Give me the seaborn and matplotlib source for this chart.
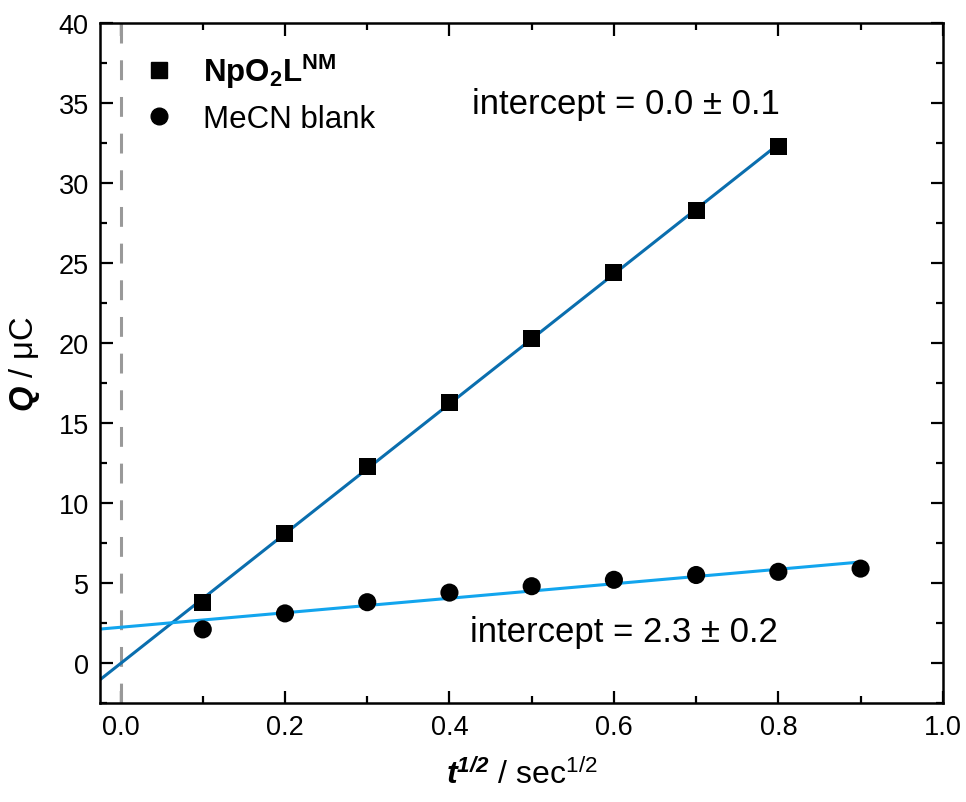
import numpy as np
import pandas as pd
import matplotlib
matplotlib.use("Agg")
import matplotlib.pyplot as plt
import seaborn as sns
from matplotlib.ticker import MultipleLocator
from matplotlib.lines import Line2D

sns.set_theme(style="ticks")
plt.rcParams['font.family'] = ['Liberation Sans', 'DejaVu Sans']
plt.rcParams['text.color'] = 'black'
plt.rcParams['axes.labelcolor'] = 'black'
plt.rcParams['xtick.color'] = 'black'
plt.rcParams['ytick.color'] = 'black'
plt.rcParams['mathtext.fontset'] = 'custom'
plt.rcParams['mathtext.rm'] = 'Liberation Sans'
plt.rcParams['mathtext.it'] = 'Liberation Sans:italic'
plt.rcParams['mathtext.bf'] = 'Liberation Sans:bold'
plt.rcParams['mathtext.bfit'] = 'Liberation Sans:italic:bold'

# data
t_np = [0.1, 0.2, 0.3, 0.4, 0.5, 0.6, 0.7, 0.8]
q_np = [3.8, 8.1, 12.3, 16.3, 20.3, 24.4, 28.3, 32.3]
t_blank = [0.1, 0.2, 0.3, 0.4, 0.5, 0.6, 0.7, 0.8, 0.9]
q_blank = [2.1, 3.1, 3.8, 4.4, 4.8, 5.2, 5.5, 5.7, 5.9]
label_np = r'$\mathbf{NpO_2L^{NM}}$'
label_blank = 'MeCN blank'
note_np = 'intercept = 0.0 ± 0.1'
note_blank = 'intercept = 2.3 ± 0.2'

dark_blue = '#0A6EAE'
light_blue = '#12A5EE'

xmin, xmax = -0.025, 1.0
ymin, ymax = -2.5, 40

fig = plt.figure(figsize=(9.66, 8.03), dpi=100)
ax = fig.add_axes([0.1035, 0.1233, 0.8725, 0.8467])

# fits
p1 = np.polyfit(t_np, q_np, 1)
p2 = np.polyfit(t_blank, q_blank, 1)
xf1 = np.linspace(xmin, max(t_np), 50)
xf2 = np.linspace(xmin, max(t_blank), 50)
sns.lineplot(x=xf1, y=np.polyval(p1, xf1), ax=ax, color=dark_blue, lw=2.2, zorder=2)
sns.lineplot(x=xf2, y=np.polyval(p2, xf2), ax=ax, color=light_blue, lw=2.2, zorder=2)

ax.axvline(0, color='#999999', lw=2.2, ls=(0, (6.5, 5.5)), zorder=1)

sns.scatterplot(x=t_np, y=q_np, ax=ax, marker='s', s=150, color='black',
                edgecolor='none', zorder=3)
sns.scatterplot(x=t_blank, y=q_blank, ax=ax, marker='o', s=170, color='black',
                edgecolor='none', zorder=3)

ax.set_xlim(xmin, xmax)
ax.set_ylim(ymin, ymax)
ax.xaxis.set_major_locator(MultipleLocator(0.2))
ax.xaxis.set_minor_locator(MultipleLocator(0.1))
ax.yaxis.set_major_locator(MultipleLocator(5))
ax.yaxis.set_minor_locator(MultipleLocator(2.5))
ax.xaxis.set_major_formatter(matplotlib.ticker.FormatStrFormatter('%.1f'))
ax.tick_params(which='both', direction='in', top=True, right=True, width=1.6, colors='black')
ax.tick_params(which='major', length=9, labelsize=19.5, pad=8)
ax.tick_params(which='minor', length=5)
for s in ax.spines.values():
    s.set_linewidth(1.8)
    s.set_color('black')
    s.set_visible(True)

ax.set_xlabel(r'$\mathbfit{t}^{\mathbfit{1/2}}$ / sec$^{\mathrm{1/2}}$', fontsize=23, labelpad=13)
ax.set_ylabel(r'$\mathbfit{Q}$ / μC', fontsize=23.5, labelpad=12)

ax.text(0.615, 35.0, note_np, fontsize=25, ha='center', va='center')
ax.text(0.612, 2.0, note_blank, fontsize=25, ha='center', va='center')

handles = [Line2D([], [], marker='s', ls='none', color='black', markersize=11),
           Line2D([], [], marker='o', ls='none', color='black', markersize=12)]
ax.legend(handles, [label_np, label_blank], loc='upper left', frameon=False,
          fontsize=22.5, bbox_to_anchor=(0.0, 1.0), handletextpad=0.4,
          labelspacing=0.45)

fig.savefig('out.png', dpi=100)
